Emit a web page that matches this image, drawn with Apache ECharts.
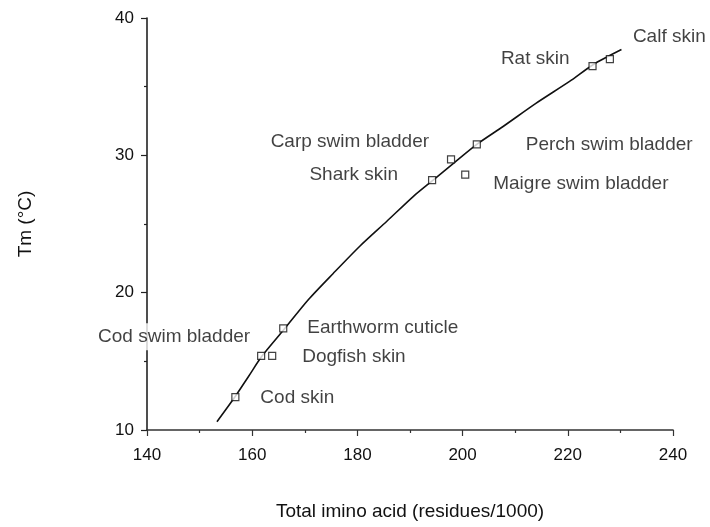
<!DOCTYPE html>
<html>
<head>
<meta charset="utf-8">
<script src="https://cdn.jsdelivr.net/npm/echarts@6/dist/echarts.min.js"></script>
<style>
  html, body { margin: 0; padding: 0; background: #fff; }
  #chart { width: 710px; height: 527px; }
</style>
</head>
<body>
<div id="chart"></div>
<script>
// Collagen sources: total imino acid content vs. denaturation temperature
const sources = [
  'Cod skin', 'Cod swim bladder', 'Dogfish skin', 'Earthworm cuticle',
  'Shark skin', 'Carp swim bladder', 'Maigre swim bladder',
  'Perch swim bladder', 'Rat skin', 'Calf skin'
];
const iminoAcid = [156.8, 161.7, 163.8, 165.9, 194.2, 197.8, 200.5, 202.7, 224.7, 228.0];
const meltTemp  = [12.4, 15.4, 15.4, 17.4, 28.2, 29.7, 28.6, 30.8, 36.5, 37.0];

// Hand-drawn trend curve, read along its length
const curveX = [153.3, 156.7, 159.3, 161.9, 166.0, 170.7, 175.4, 180.5, 185.6, 190.6, 194.4, 198.2, 202.7, 207.7, 214.0, 220.4, 224.8, 230.2];
const curveY = [10.6, 12.4, 13.9, 15.4, 17.3, 19.5, 21.4, 23.4, 25.2, 27.0, 28.2, 29.4, 30.8, 32.1, 33.8, 35.4, 36.6, 37.7];

const xTicks = [140, 160, 180, 200, 220, 240];
const yTicks = [10, 20, 30, 40];

// Label placement per source: [dx, dy, align]
const labelPlacement = [
  [25, 1, 'left'], [-9, -19, 'right'], [30, 1, 'left'], [24, -1, 'left'],
  [-34, -5, 'right'], [-22, -18, 'right'], [28, 9, 'left'],
  [49, 0, 'left'], [-23, -7, 'right'], [23, -22, 'left']
];

const FONT = "'Liberation Sans', Arial, Helvetica, sans-serif";
const INK = '#111';

const points = sources.map((name, i) => {
  const [dx, dy, align] = labelPlacement[i];
  const label = {
    show: true, formatter: name, position: 'inside', align: align,
    verticalAlign: 'middle', offset: [dx, dy],
    color: INK, textBorderWidth: 0, textBorderColor: 'transparent'
  };
  if (name === 'Cod swim bladder') {
    label.backgroundColor = '#fff';
    label.padding = [4, 2];
  }
  return { value: [iminoAcid[i], meltTemp[i]], name: name, label: label };
});

const chart = echarts.init(document.getElementById('chart'), null, { renderer: 'canvas' });
chart.setOption({
  backgroundColor: '#fff',
  animation: false,
  textStyle: { fontFamily: FONT, color: INK },
  grid: { left: 147, right: 37, top: 18, bottom: 97 },
  xAxis: {
    type: 'value', min: xTicks[0], max: xTicks[xTicks.length - 1], interval: 20,
    name: 'Total imino acid (residues/1000)', nameLocation: 'middle', nameGap: 72,
    nameTextStyle: { fontSize: 19, color: INK, fontFamily: FONT },
    axisLine: { lineStyle: { color: '#333', width: 1.6 } },
    axisTick: { show: true, length: 6, lineStyle: { color: '#333', width: 1.2 } },
    minorTick: { show: true, splitNumber: 2, length: 3, lineStyle: { color: '#333', width: 1.2 } },
    axisLabel: { fontSize: 17, color: INK, margin: 17, fontFamily: FONT },
    splitLine: { show: false }
  },
  yAxis: {
    type: 'value', min: yTicks[0], max: yTicks[yTicks.length - 1], interval: 10,
    name: 'Tm (°C)', nameLocation: 'middle', nameGap: 112,
    nameTextStyle: { fontSize: 19, color: INK, fontFamily: FONT },
    axisLine: { show: true, lineStyle: { color: '#222', width: 1.6 } },
    axisTick: { show: true, length: 6, lineStyle: { color: '#222', width: 1.2 } },
    minorTick: { show: true, splitNumber: 2, length: 3, lineStyle: { color: '#222', width: 1.2 } },
    axisLabel: { fontSize: 17, color: INK, margin: 13, fontFamily: FONT },
    splitLine: { show: false }
  },
  series: [
    {
      type: 'line',
      data: curveX.map((x, i) => [x, curveY[i]]),
      smooth: 0.25,
      showSymbol: false,
      lineStyle: { color: '#111', width: 1.6 },
      z: 2
    },
    {
      type: 'scatter',
      data: points,
      symbol: 'rect',
      symbolSize: 7,
      itemStyle: { color: '#fff', borderColor: '#111', borderWidth: 1.2 },
      label: { fontSize: 19, color: INK, fontFamily: FONT, textBorderWidth: 0 },
      z: 3
    }
  ]
});
</script>
</body>
</html>
